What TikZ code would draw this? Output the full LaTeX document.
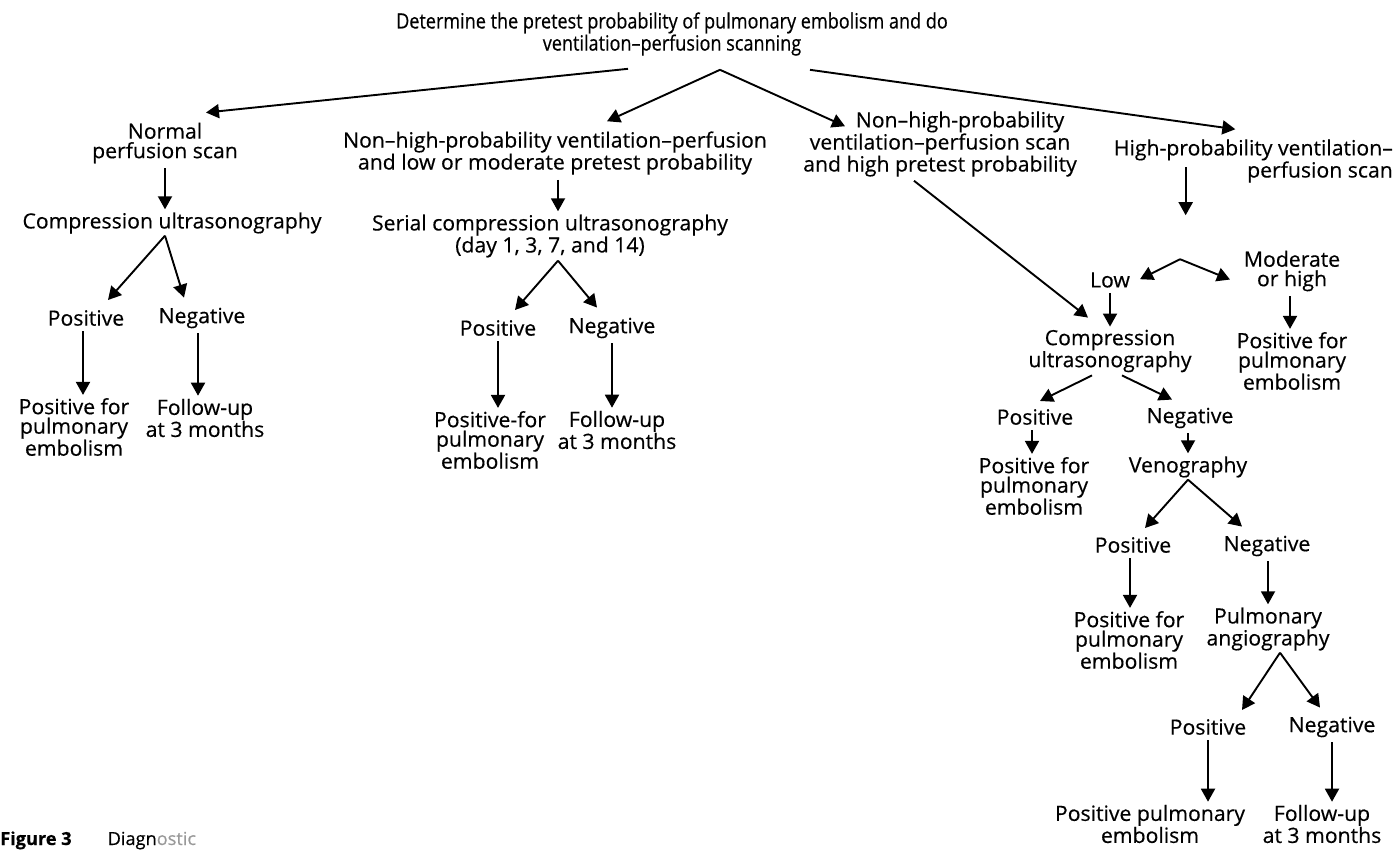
\documentclass[tikz,border=0pt]{standalone}
\usepackage{fontspec}
\setmainfont{Open Sans}[FakeStretch=1.01,FakeBold=0.4]
\newfontfamily\titlefont[FakeStretch=0.86,FakeBold=0.5]{Open Sans}
\usetikzlibrary{arrows.meta,calc}

\begin{document}
\begin{tikzpicture}[x=1pt,y=-1pt,
  lbl/.style={inner sep=0pt, align=center, font=\fontsize{21}{19.5}\selectfont},
  ttl/.style={inner sep=0pt, align=center, font=\titlefont\fontsize{21}{19}\selectfont},
  arr/.style={line width=1.9pt, -{Triangle[width=14pt,length=13pt]}},
  vdown/.style={arr, shorten <=5pt, shorten >=3pt}]
\clip (0,0) rectangle (1397,850);
\fill[white] (0,0) rectangle (1397,850);

% ---- root ----
\node[ttl] (t) at (672,34) {Determine the pretest probability of pulmonary embolism and do\\ventilation–perfusion scanning};

% ---- branch 1: normal scan ----
\node[lbl] (n1) at (165,143) {Normal\\perfusion scan};
\node[lbl] (c1) at (172,223) {Compression ultrasonography};
\node[lbl] (p1) at (86,318) {Positive};
\node[lbl] (g1) at (202,318) {Negative};
\node[lbl] (pf1) at (74,427) {Positive for\\pulmonary\\embolism};
\node[lbl] (f1) at (205,418) {Follow-up\\at 3 months};

% ---- branch 2: non-high, low/moderate ----
\node[lbl] (n2) at (555,153) {Non–high-probability ventilation–perfusion\\and low or moderate pretest probability};
\node[lbl] (s2) at (550,236) {Serial compression ultrasonography\\(day 1, 3, 7, and 14)};
\node[lbl] (p2) at (498,328) {Positive};
\node[lbl] (g2) at (612,328) {Negative};
\node[lbl] (pf2) at (490,440) {Positive-for\\pulmonary\\embolism};
\node[lbl] (f2) at (617,430) {Follow-up\\at 3 months};

% ---- branch 3: non-high, high pretest ----
\node[lbl] (n3) at (940,144) {\hspace*{40pt}Non–high-probability\\ventilation–perfusion scan\\and high pretest probability};
\node[lbl] (low) at (1110,280) {Low};
\node[lbl] (mod) at (1292,271) {Moderate\\or high};
\node[lbl] (c3) at (1110,351) {Compression\\ultrasonography};
\node[lbl] (pf3) at (1292,361) {Positive for\\pulmonary\\embolism};
\node[lbl] (p3) at (1035,417) {Positive};
\node[lbl] (g3) at (1190,418) {Negative};
\node[lbl] (pf4) at (1034,486) {Positive for\\pulmonary\\embolism};
\node[lbl] (v) at (1188,467) {Venography};
\node[lbl] (p4) at (1133,545) {Positive};
\node[lbl] (g4) at (1267,546) {Negative};
\node[lbl] (pf5) at (1129,640) {Positive for\\pulmonary\\embolism};
\node[lbl] (pa) at (1268,629) {Pulmonary\\angiography};
\node[lbl] (p5) at (1208,727) {Positive};
\node[lbl] (g5) at (1332,727) {Negative};
\node[lbl] (pe) at (1150,824) {Positive pulmonary\\embolism};
\node[lbl] (f5) at (1322,824) {Follow-up\\at 3 months};

% ---- branch 4: high probability ----
\node[lbl, align=right, anchor=east] (n4) at (1393,161) {High-probability ventilation–\\perfusion scan};

% ---- caption ----
\node[inner sep=0pt, anchor=base west, font=\fontsize{18}{18}\selectfont] (cap) at (0,845) {\textbf{Figure 3}\hspace{36pt}Diagn\textcolor{black!40}{ostic}};

% ---- connectors from the root ----
\coordinate (ta) at ([xshift=48pt,yshift=-14pt]t.south);
\draw[arr] ([xshift=-44pt,yshift=-13pt]t.south) -- ([xshift=41pt,yshift=10pt]n1.north);
\draw[arr] (ta) -- ([xshift=52pt,yshift=10pt]n2.north);
\draw[arr] (ta) -- ([xshift=42pt,yshift=-15pt]n3.north west);
\draw[arr] ([xshift=138pt,yshift=-14pt]t.south) -- ([xshift=-18pt,yshift=10pt]n4.north);

% ---- branch 1 ----
\draw[vdown] (n1.south) -- (n1.south |- c1.north);
\coordinate (a1) at ([xshift=-7pt,yshift=-2pt]c1.south);
\draw[arr] (a1) -- ([xshift=22pt,yshift=10pt]p1.north);
\draw[arr] (a1) -- ([xshift=-18pt,yshift=10pt]g1.north);
\draw[vdown] ([xshift=-3pt]p1.south) -- ([xshift=-3pt]p1.south |- pf1.north);
\draw[vdown] ([xshift=-4pt]g1.south) -- ([xshift=-4pt]g1.south |- f1.north);

% ---- branch 2 ----
\draw[vdown] ([xshift=3pt]n2.south) -- ([xshift=3pt]n2.south |- s2.north);
\coordinate (a2) at ([xshift=8pt,yshift=-3pt]s2.south);
\draw[arr] (a2) -- ([xshift=17pt,yshift=10pt]p2.north);
\draw[arr] (a2) -- ([xshift=-15pt,yshift=10pt]g2.north);
\draw[vdown] (p2.south) -- (p2.south |- pf2.north);
\draw[vdown] (g2.south) -- (g2.south |- f2.north);

% ---- branch 3 ----
\draw[arr] ([xshift=-26pt,yshift=-4pt]n3.south) -- ([xshift=-22pt,yshift=12pt]c3.north);
\draw[vdown] (low.south) -- (low.south |- c3.north);
\draw[vdown] ([xshift=-2pt]mod.south) -- ([xshift=-2pt]mod.south |- pf3.north);
\coordinate (a3) at ([xshift=-18pt,yshift=-3pt]c3.south);
\coordinate (a3r) at ([xshift=12pt,yshift=-3pt]c3.south);
\draw[arr] (a3) -- ([xshift=5pt,yshift=8pt]p3.north);
\draw[arr] (a3r) -- ([xshift=-18pt,yshift=8pt]g3.north);
\draw[vdown] ([xshift=-3pt]p3.south) -- ([xshift=-3pt]p3.south |- pf4.north);
\draw[vdown] ([xshift=-2pt]g3.south) -- ([xshift=-2pt]g3.south |- v.north);
\coordinate (a4) at ([yshift=-2pt]v.south);
\draw[arr] (a4) -- ([xshift=12pt,yshift=9pt]p4.north);
\draw[arr] (a4) -- ([xshift=-25pt,yshift=9pt]g4.north);
\draw[vdown] ([xshift=-3pt]p4.south) -- ([xshift=-3pt]p4.south |- pf5.north);
\draw[vdown] ([xshift=1pt]g4.south) -- ([xshift=1pt]g4.south |- pa.north);
\coordinate (a5) at ([xshift=12pt,yshift=-2pt]pa.south);
\draw[arr] (a5) -- ([xshift=34pt,yshift=9pt]p5.north);
\draw[arr] (a5) -- ([xshift=-12pt,yshift=9pt]g5.north);
\draw[vdown] (p5.south) -- (p5.south |- pe.north);
\draw[vdown] (g5.south) -- (g5.south |- f5.north);

% ---- branch 4 ----
\draw[arr] ([xshift=72pt,yshift=-28pt]n4.north west) -- ++(0,48);
\coordinate (a6) at ([xshift=70pt,yshift=13pt]low.north);
\draw[arr] (a6) -- ([xshift=30pt,yshift=-7pt]low.north);
\draw[arr] (a6) -- ([xshift=-62pt,yshift=-29pt]mod.north);
\end{tikzpicture}
\end{document}
